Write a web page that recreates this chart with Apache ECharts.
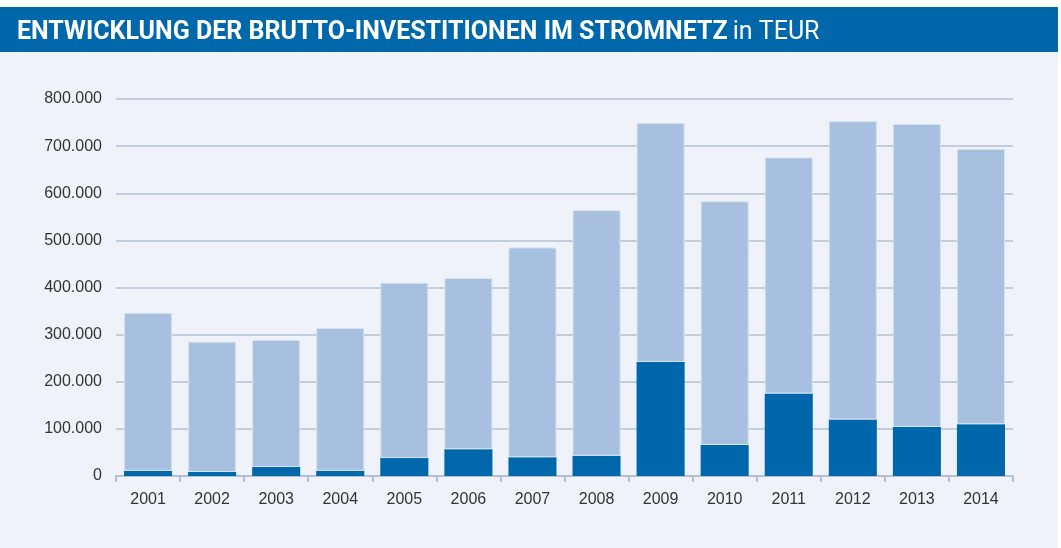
<!DOCTYPE html>
<html>
<head>
<meta charset="utf-8">
<script src="https://cdn.jsdelivr.net/npm/echarts@6/dist/echarts.min.js"></script>
<style>
  html, body { margin: 0; padding: 0; background: #fff; }
  #chart { width: 1061px; height: 548px; }
</style>
</head>
<body>
<div id="chart"></div>
<script>
// Jahre und Werte (TEUR)
const years = ['2001', '2002', '2003', '2004', '2005', '2006', '2007',
               '2008', '2009', '2010', '2011', '2012', '2013', '2014'];
// dunkler Anteil (unten)
const darkPart = [11000, 8500, 19000, 11000, 38000, 57000, 40000,
                  43000, 242000, 66000, 175000, 120000, 104000, 110000];
// Gesamtwerte (Oberkante der Säule)
const totals = [346000, 285000, 289000, 314000, 410000, 420000, 485000,
                564000, 749000, 583000, 676000, 753000, 747000, 694000];
const lightPart = totals.map((t, i) => t - darkPart[i]);

const fmt = v => String(v).replace(/\B(?=(\d{3})+(?!\d))/g, '.');

const chart = echarts.init(document.getElementById('chart'));

chart.setOption({
    backgroundColor: '#ffffff',
    animation: false,
    graphic: [
        { type: 'rect', z: -10, shape: { x: 0, y: 52, width: 1058, height: 496 }, style: { fill: '#eff3f9' } },
        { type: 'rect', z: -10, shape: { x: 0, y: 7, width: 1058, height: 45 }, style: { fill: '#0068aa' } }
    ],
    title: {
        left: 12, top: 15,
        text: '{b|ENTWICKLUNG DER BRUTTO-INVESTITIONEN IM STROMNETZ} {n|in TEUR}',
        textStyle: {
            rich: {
                b: { fontFamily: 'Roboto, sans-serif', fontWeight: 'bold', fontSize: 25, color: '#fff' },
                n: { fontFamily: 'Roboto, sans-serif', fontWeight: 'normal', fontSize: 25, color: '#fff' }
            }
        }
    },
    grid: { left: 116, right: 48, top: 99, bottom: 72, containLabel: false },
    xAxis: {
        type: 'category',
        data: years,
        axisLine: { lineStyle: { color: '#b3c0d6', width: 2 } },
        axisTick: { show: true, length: 6, lineStyle: { color: '#b3c0d6', width: 2 } },
        axisLabel: { color: '#333', fontSize: 16, margin: 16, fontFamily: 'Liberation Sans, sans-serif' }
    },
    yAxis: {
        type: 'value',
        min: 0, max: 800000, interval: 100000,
        axisLine: { show: false },
        axisTick: { show: false },
        splitLine: { lineStyle: { color: '#b3c0d6', width: 1.5 } },
        axisLabel: { color: '#333', fontSize: 16, margin: 14, fontFamily: 'Liberation Sans, sans-serif', formatter: fmt }
    },
    series: [
        {
            type: 'bar', stack: 'a', data: darkPart,
            barCategoryGap: '25%',
            itemStyle: { color: '#0068aa' }
        },
        {
            type: 'bar', stack: 'a', data: lightPart,
            itemStyle: { color: '#a8c0df', borderColor: '#d6e1ef', borderWidth: 1 }
        }
    ]
});
</script>
</body>
</html>
